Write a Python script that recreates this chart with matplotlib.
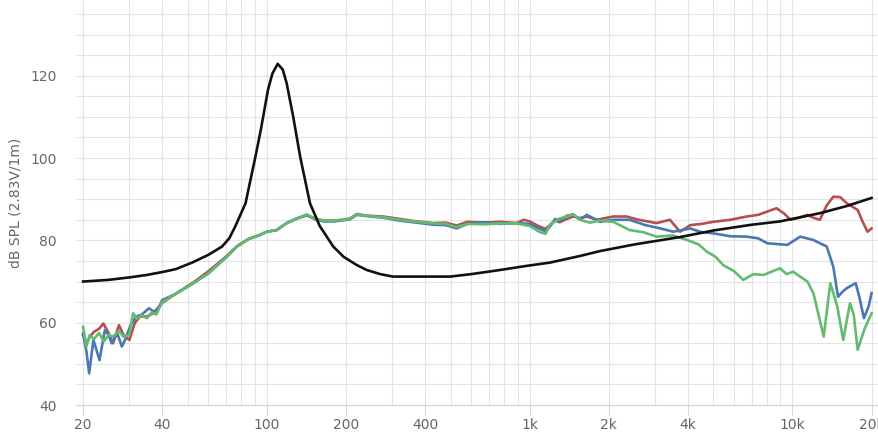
import matplotlib
matplotlib.use("Agg")
import matplotlib.pyplot as plt
from matplotlib.ticker import FixedLocator, NullFormatter, LogLocator

# black curve (resonance peak ~110 Hz)
f_black = [20, 25, 30, 35, 40, 45, 52, 60, 67.6, 72, 76, 83, 90.5, 95, 101, 105, 110,
           115, 119, 126, 134, 146, 159, 179, 196, 220, 240, 270, 302, 400, 498, 600,
           771, 950, 1195, 1553, 1853, 2500, 3733, 5000, 7000, 8958, 12710, 16000, 20000]
db_black = [70.0, 70.4, 71.0, 71.6, 72.3, 73.0, 74.6, 76.5, 78.5, 80.5, 83.5, 89.0, 100.3,
            107.0, 116.5, 120.5, 122.9, 121.5, 118.2, 110.1, 100.3, 89.0, 83.5, 78.5, 76.0,
            74.0, 72.8, 71.8, 71.2, 71.2, 71.2, 71.8, 72.8, 73.7, 74.6, 76.2, 77.4, 79.0,
            80.8, 82.4, 83.8, 84.6, 86.6, 88.3, 90.3]

f_red = [20, 20.6, 21.2, 22, 23, 23.9, 25, 26, 27.4, 28.5, 30, 31.5, 33, 35, 37, 40, 45,
         52.6, 60, 70.4, 77, 85, 94, 100, 109, 119, 130, 142, 154, 165, 180, 195, 207, 220,
         240, 277, 320, 372, 431, 480, 527, 580, 667, 770, 893, 950, 1000, 1094, 1150, 1200,
         1250, 1300, 1384, 1467, 1553, 1650, 1800, 2081, 2334, 2600, 3041, 3418, 3733, 4084,
         4500, 5001, 5800, 6700, 7400, 8016, 8700, 9300, 9832, 10600, 11400, 12000, 12710,
         13500, 14300, 15200, 16100, 17700, 18500, 19300, 20000]
db_red = [57.0, 55.0, 56.5, 57.8, 58.5, 59.8, 57.5, 55.0, 59.4, 57.0, 55.8, 60.0, 61.5, 61.5,
          62.3, 64.8, 67.0, 69.8, 72.5, 76.2, 78.6, 80.3, 81.3, 82.1, 82.5, 84.2, 85.3, 86.1,
          85.2, 84.8, 84.8, 85.0, 85.3, 86.4, 86.0, 85.8, 85.2, 84.6, 84.2, 84.3, 83.6, 84.5,
          84.3, 84.5, 84.2, 85.0, 84.6, 83.3, 82.8, 83.8, 84.9, 84.4, 85.2, 85.8, 85.4, 85.8,
          85.0, 85.8, 85.8, 85.0, 84.2, 85.0, 82.1, 83.7, 84.0, 84.5, 85.0, 85.8, 86.2, 87.0,
          87.8, 86.5, 85.0, 85.5, 86.2, 85.5, 85.0, 88.5, 90.6, 90.5, 89.0, 87.4, 84.5, 82.1,
          82.9]

f_blue = [20, 20.6, 21.1, 21.9, 23.1, 24.2, 25, 25.7, 27, 28.1, 29, 30.3, 32, 33.5, 35.6, 38,
          40, 45, 52.6, 60, 70.4, 77, 85, 94, 100, 109, 119, 130, 142, 154, 165, 180, 195,
          207, 220, 240, 277, 320, 372, 431, 480, 527, 580, 667, 770, 893, 1000, 1094, 1150,
          1200, 1250, 1300, 1384, 1467, 1553, 1650, 1853, 2081, 2400, 2760, 3100, 3520, 4084,
          4500, 5000, 5800, 6700, 7400, 8016, 9560, 10700, 12000, 13500, 14300, 14900, 15500,
          16100, 17400, 18000, 18700, 19500, 20000]
db_blue = [57.4, 53.0, 47.7, 55.8, 50.9, 58.2, 57.0, 55.0, 57.4, 54.2, 56.0, 59.4, 61.5, 62.0,
           63.5, 62.3, 65.5, 67.0, 69.6, 72.0, 76.0, 78.5, 80.3, 81.3, 82.1, 82.5, 84.2, 85.3,
           86.2, 85.0, 84.6, 84.6, 84.9, 85.1, 86.2, 85.9, 85.5, 84.8, 84.3, 83.8, 83.7, 82.9,
           84.0, 84.4, 84.0, 84.2, 84.0, 82.8, 82.2, 83.5, 85.2, 84.7, 86.0, 86.3, 85.0, 86.2,
           84.5, 85.0, 85.0, 83.7, 83.0, 82.1, 82.9, 82.0, 81.7, 81.0, 80.9, 80.5, 79.3, 78.9,
           80.9, 80.1, 78.5, 73.6, 66.3, 67.5, 68.4, 69.6, 66.0, 61.1, 64.0, 67.2]

f_green = [20, 20.6, 21.2, 22, 23, 24, 25, 26, 27.4, 28.5, 30, 31, 32, 33.5, 35, 36.5, 38, 40,
           45, 52.6, 60, 70.4, 77, 85, 94, 100, 109, 119, 130, 142, 154, 165, 180, 195, 207,
           220, 240, 277, 320, 372, 431, 480, 527, 580, 667, 770, 893, 1000, 1094, 1150, 1200,
           1250, 1300, 1384, 1467, 1553, 1696, 1850, 2081, 2400, 2700, 3041, 3500, 3970, 4400,
           4710, 5100, 5450, 6000, 6500, 7100, 7760, 8400, 8960, 9500, 10050, 10800, 11400,
           12020, 13150, 13930, 14800, 15600, 16540, 17100, 17700, 18800, 20000]
db_green = [59.0, 54.2, 57.0, 56.0, 57.5, 55.5, 57.0, 56.6, 58.0, 56.6, 57.0, 62.3, 61.0, 61.8,
            61.1, 62.5, 62.0, 65.0, 67.0, 69.6, 72.0, 76.0, 78.5, 80.3, 81.3, 82.1, 82.5, 84.2,
            85.3, 86.3, 85.2, 84.8, 84.8, 85.0, 85.2, 86.3, 86.0, 85.6, 85.0, 84.5, 84.1, 84.0,
            83.2, 84.0, 83.9, 84.1, 84.1, 83.5, 82.0, 81.6, 84.0, 84.6, 85.3, 85.8, 86.3, 85.0,
            84.3, 84.8, 84.5, 82.5, 82.0, 80.9, 81.2, 80.1, 79.0, 77.3, 76.0, 74.0, 72.5, 70.4,
            71.8, 71.6, 72.5, 73.2, 71.8, 72.4, 71.0, 70.0, 67.1, 56.6, 69.6, 64.0, 55.8, 64.7,
            62.0, 53.4, 58.5, 62.3]

x_ticks = [20, 40, 100, 200, 400, 1000, 2000, 4000, 10000, 20000]
x_labels = ["20", "40", "100", "200", "400", "1k", "2k", "4k", "10k", "20k"]
y_ticks = [40, 60, 80, 100, 120]

fig = plt.figure(figsize=(8.79, 4.36), dpi=100)
ax = fig.add_axes([76 / 879, 1 - 405 / 436, 803 / 879, 405 / 436])

ax.plot(f_red, db_red, color="#b5504d", lw=1.9, zorder=3)
ax.plot(f_blue, db_blue, color="#4a78b2", lw=1.9, zorder=4)
ax.plot(f_green, db_green, color="#62bb70", lw=1.9, zorder=5)
ax.plot(f_black, db_black, color="#111111", lw=1.9, zorder=6)

ax.set_xscale("log")
ax.set_xlim(18.8, 21340)
ax.set_ylim(40, 138.4)

ax.xaxis.set_major_locator(FixedLocator(x_ticks))
ax.set_xticklabels(x_labels)
ax.xaxis.set_minor_locator(LogLocator(base=10, subs=range(2, 10)))
ax.xaxis.set_minor_formatter(NullFormatter())
ax.set_yticks(y_ticks)
ax.yaxis.set_minor_locator(FixedLocator(range(45, 140, 5)))

ax.grid(True, which="both", color="#e3e3e3", lw=0.8, zorder=0)
ax.set_axisbelow(True)
for s in ["top", "right", "left"]:
    ax.spines[s].set_visible(False)
ax.spines["bottom"].set_color("#ccd6eb")
ax.spines["bottom"].set_linewidth(0.8)

ax.tick_params(axis="x", which="major", length=7, width=0.8, color="#ccd6eb",
               labelcolor="#666666", labelsize=10, pad=2)
ax.tick_params(axis="x", which="minor", length=0)
ax.tick_params(axis="y", which="both", length=0, labelcolor="#666666", labelsize=10, pad=14)

ax.set_ylabel("dB SPL (2.83V/1m)", color="#666666", fontsize=10)
ax.yaxis.set_label_coords(-0.067, 0.5)

fig.savefig("out.png", dpi=100)
